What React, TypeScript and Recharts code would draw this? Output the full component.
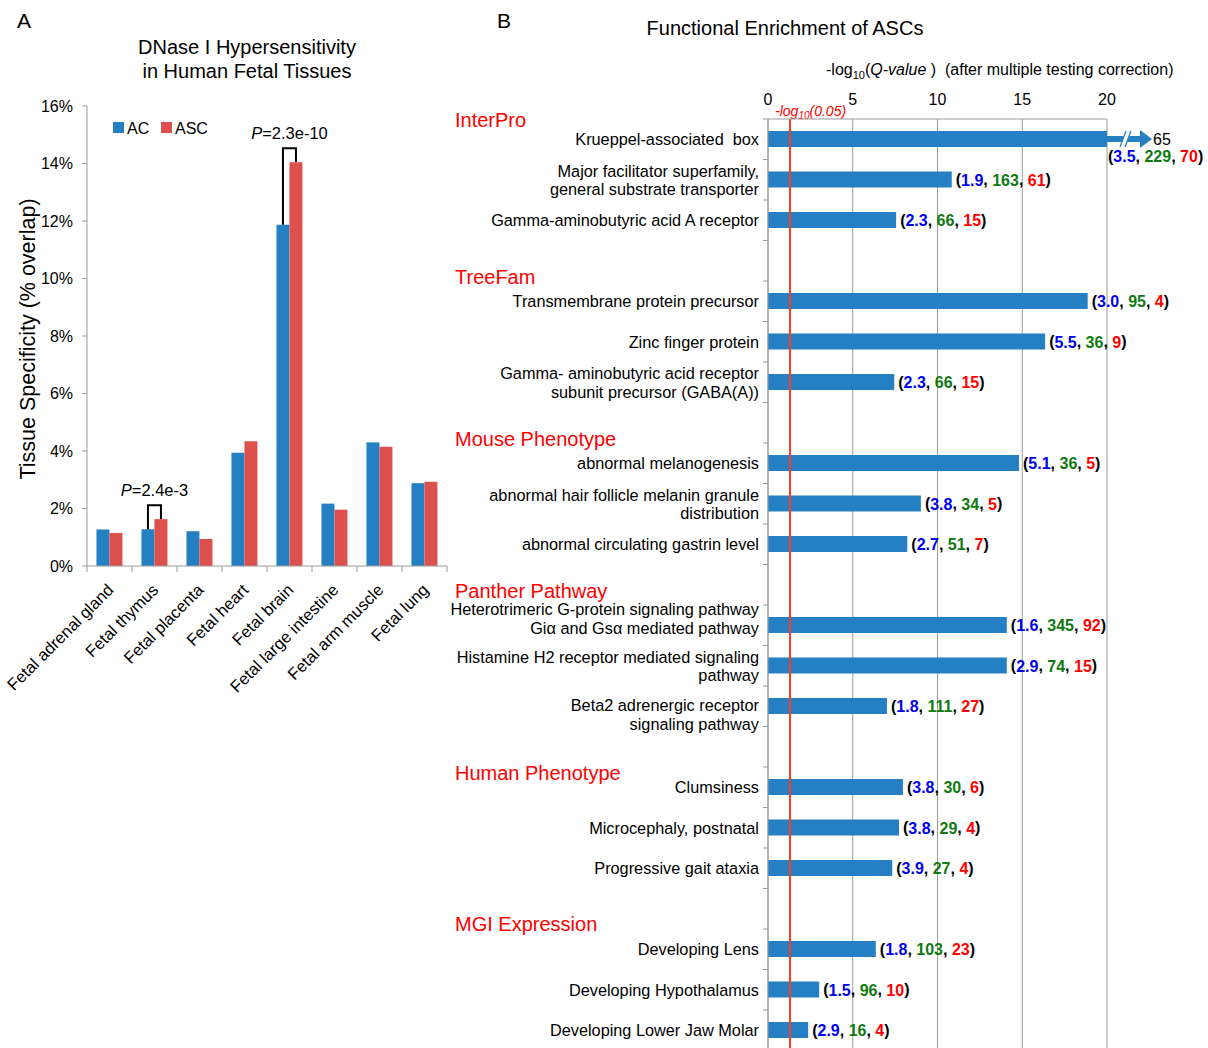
import React from 'react';
import { BarChart, Bar, XAxis, YAxis, CartesianGrid, ReferenceLine } from 'recharts';

// ---------------- Panel A data ----------------
const tissues = [
  'Fetal adrenal gland',
  'Fetal thymus',
  'Fetal placenta',
  'Fetal heart',
  'Fetal brain',
  'Fetal large intestine',
  'Fetal arm muscle',
  'Fetal lung',
];
const acValues = [1.27, 1.28, 1.21, 3.94, 11.87, 2.17, 4.3, 2.88];
const ascValues = [1.15, 1.63, 0.94, 4.34, 14.04, 1.96, 4.15, 2.93];
const pAnnotTissues = ['Fetal thymus', 'Fetal brain'];
const pAnnotValues = ['2.4e-3', '2.3e-10'];
const yTicksA = [0, 2, 4, 6, 8, 10, 12, 14, 16];
const seriesNamesA = ['AC', 'ASC'];

// ---------------- Panel B data ----------------
const groupNames = ['InterPro', 'TreeFam', 'Mouse Phenotype', 'Panther Pathway', 'Human Phenotype', 'MGI Expression'];
const termGroups = [0, 0, 0, 1, 1, 1, 2, 2, 2, 3, 3, 3, 4, 4, 4, 5, 5, 5];
const termLabels = [
  'Krueppel-associated  box',
  'Major facilitator superfamily,\ngeneral substrate transporter',
  'Gamma-aminobutyric acid A receptor',
  'Transmembrane protein precursor',
  'Zinc finger protein',
  'Gamma- aminobutyric acid receptor\nsubunit precursor (GABA(A))',
  'abnormal melanogenesis',
  'abnormal hair follicle melanin granule\ndistribution',
  'abnormal circulating gastrin level',
  'Heterotrimeric G-protein signaling pathway\nGi\u03b1 and Gs\u03b1 mediated pathway',
  'Histamine H2 receptor mediated signaling\npathway',
  'Beta2 adrenergic receptor\nsignaling pathway',
  'Clumsiness',
  'Microcephaly, postnatal',
  'Progressive gait ataxia',
  'Developing Lens',
  'Developing Hypothalamus',
  'Developing Lower Jaw Molar',
];
const negLog10Q = [65, 10.84, 7.56, 18.86, 16.35, 7.45, 14.81, 9.02, 8.22, 14.09, 14.09, 7.02, 7.96, 7.73, 7.33, 6.36, 3.02, 2.37];
const foldValues = [3.5, 1.9, 2.3, 3.0, 5.5, 2.3, 5.1, 3.8, 2.7, 1.6, 2.9, 1.8, 3.8, 3.8, 3.9, 1.8, 1.5, 2.9];
const totalCounts = [229, 163, 66, 95, 36, 66, 36, 34, 51, 345, 74, 111, 30, 29, 27, 103, 96, 16];
const ascCounts = [70, 61, 15, 4, 9, 15, 5, 5, 7, 92, 15, 27, 6, 4, 4, 23, 10, 4];
const xTicksB = [0, 5, 10, 15, 20];
const qThreshold = 1.3; // -log10(0.05)

// ---------------- styling / layout constants ----------------
const FONT = '"Liberation Sans", Arial, Helvetica, sans-serif';
const AC_BLUE = '#2580c3';
const ASC_RED = '#dc514e';
const AXIS_GRAY = '#9a9a9a';
const NUM_BLUE = '#0000f0';
const NUM_GREEN = '#0f7a0f';
const NUM_RED = '#ff0000';

const A_W = 460;
const A_H = 700;
const A_MARGIN = { top: 106, right: 13, bottom: 0, left: 0 };
const A_YAXIS_W = 87;
const A_XAXIS_H = 134;
const A_PLOT_W = A_W - A_MARGIN.right - A_MARGIN.left - A_YAXIS_W;

const B_W = 1208;
const B_H = 1060;
const B_ROWS = 23;
const B_ROW_H = 40.5;
const B_AXIS_TOP = 119;
const B_MARGIN = { top: 99, right: 101, bottom: B_H - B_AXIS_TOP - B_ROWS * B_ROW_H, left: 748 };
const B_XAXIS_H = 20;
const B_YAXIS_W = 20;
const X_MAX_B = 20;
const HEADER_X = 455;
const HEADER_DY = [-12, -17, -17, -27, -7, -18];
const LABEL_DY: Record<string, number> = { t9: -7, t11: 8 };

// ---------------- build tables ----------------
const dataA = tissues.map((t, i) => ({ tissue: t, ac: acValues[i], asc: ascValues[i] }));

type RowB = {
  id: string;
  label: string;
  q: number | null;
  fold?: number;
  total?: number;
  asc?: number;
  header?: string | null;
  group: number;
};
const rowsB: RowB[] = [];
termLabels.forEach((label, i) => {
  const newGroup = i === 0 || termGroups[i] !== termGroups[i - 1];
  if (i > 0 && newGroup) rowsB.push({ id: `gap${i}`, label: '', q: null, group: termGroups[i] });
  rowsB.push({
    id: `t${i}`,
    label,
    q: negLog10Q[i],
    fold: foldValues[i],
    total: totalCounts[i],
    asc: ascCounts[i],
    header: newGroup ? groupNames[termGroups[i]] : null,
    group: termGroups[i],
  });
});
const rowById: Record<string, RowB> = {};
rowsB.forEach((r) => (rowById[r.id] = r));

// ---------------- Panel A renderers ----------------
const TissueTick = (props: any) => {
  const { x, y, payload, index } = props;
  const band = A_PLOT_W / tissues.length;
  const ax = x + 5;
  const ay = y + 25;
  return (
    <g>
      <line x1={x - band / 2} x2={x - band / 2} y1={y} y2={y + 6} stroke={AXIS_GRAY} />
      {index === tissues.length - 1 && (
        <line x1={x + band / 2} x2={x + band / 2} y1={y} y2={y + 6} stroke={AXIS_GRAY} />
      )}
      <text
        x={ax}
        y={ay}
        transform={`rotate(-45, ${ax}, ${ay})`}
        textAnchor="end"
        fontSize={16.6}
        fontFamily={FONT}
        fill="#000"
      >
        {payload.value}
      </text>
    </g>
  );
};

const AcBarShape = (props: any) => {
  const { x, y, width, height, payload, fill } = props;
  const k = pAnnotTissues.indexOf(payload.tissue);
  const rect = <rect x={x} y={y} width={width} height={height} fill={fill} />;
  if (k < 0 || !payload.ac) return rect;
  const ppu = height / payload.ac;
  const base = y + height;
  const ascTop = base - payload.asc * ppu;
  const top = Math.min(y, ascTop) - 14;
  const lx = x + width / 2;
  const rx = x + width * 1.5;
  return (
    <g>
      {rect}
      <polyline
        points={`${lx},${y} ${lx},${top} ${rx},${top} ${rx},${ascTop}`}
        fill="none"
        stroke="#000"
        strokeWidth={2}
      />
      <text x={(lx + rx) / 2} y={top - 9} textAnchor="middle" fontSize={16.5} fontFamily={FONT} fill="#000">
        <tspan fontStyle="italic">P</tspan>={pAnnotValues[k]}
      </text>
    </g>
  );
};

// ---------------- Panel B renderers ----------------
const TermTick = (props: any) => {
  const { x, y, payload, index } = props;
  const row = rowById[payload.value] || rowsB[index];
  const lines = row && row.label ? row.label.split('\n') : [];
  const lineH = 18.5;
  const shift = row ? LABEL_DY[row.id] || 0 : 0;
  const y0 = y - ((lines.length - 1) * lineH) / 2 + shift;
  return (
    <g>
      <line x1={x - 5} x2={x} y1={y - B_ROW_H / 2} y2={y - B_ROW_H / 2} stroke={AXIS_GRAY} />
      {index === rowsB.length - 1 && (
        <line x1={x - 5} x2={x} y1={y + B_ROW_H / 2} y2={y + B_ROW_H / 2} stroke={AXIS_GRAY} />
      )}
      {lines.map((ln, k) => (
        <text
          key={k}
          x={x - 9}
          y={y0 + k * lineH}
          textAnchor="end"
          dominantBaseline="central"
          fontSize={16.3}
          fontFamily={FONT}
          fill="#000"
          style={{ whiteSpace: 'pre' }}
        >
          {ln}
        </text>
      ))}
      {row && row.header && (
        <text x={HEADER_X} y={y + HEADER_DY[row.group]} fontSize={20} fontFamily={FONT} fill="#ff0000">
          {row.header}
        </text>
      )}
    </g>
  );
};

const QTick = (props: any) => {
  const { x, payload } = props;
  return (
    <text x={x} y={B_AXIS_TOP - 14} textAnchor="middle" fontSize={16} fontFamily={FONT} fill="#000">
      {payload.value}
    </text>
  );
};

const EnrichBar = (props: any) => {
  const { x, y, width, height, payload } = props;
  if (!payload || payload.q == null || !isFinite(width)) return <g />;
  const cy = y + height / 2;
  const end = x + width;
  const over = payload.q > X_MAX_B;
  return (
    <g>
      <rect x={x} y={y} width={width} height={height} fill={AC_BLUE} />
      {over && (
        <g>
          <rect x={end} y={cy - 3} width={35} height={6} fill={AC_BLUE} />
          <polygon points={`${end + 33},${cy - 9} ${end + 45},${cy} ${end + 33},${cy + 9}`} fill={AC_BLUE} />
          <polygon
            points={`${end + 13},${cy + 8} ${end + 18},${cy + 8} ${end + 24},${cy - 8} ${end + 19},${cy - 8}`}
            fill="#fff"
          />
          <line x1={end + 13} y1={cy + 8} x2={end + 19} y2={cy - 8} stroke={AC_BLUE} strokeWidth={1.3} />
          <line x1={end + 18} y1={cy + 8} x2={end + 24} y2={cy - 8} stroke={AC_BLUE} strokeWidth={1.3} />
          <text x={end + 46} y={cy} dominantBaseline="central" fontSize={16} fontFamily={FONT} fill="#000">
            {payload.q}
          </text>
        </g>
      )}
      <text
        x={over ? end + 1 : end + 4}
        y={over ? cy + 17 : cy}
        dominantBaseline="central"
        fontSize={16}
        fontWeight="bold"
        fontFamily={FONT}
        fill="#000"
      >
        (<tspan fill={NUM_BLUE}>{payload.fold.toFixed(1)}</tspan>, <tspan fill={NUM_GREEN}>{payload.total}</tspan>,{' '}
        <tspan fill={NUM_RED}>{payload.asc}</tspan>)
      </text>
    </g>
  );
};

const ThresholdLabel = (props: any) => {
  const vb = props.viewBox || {};
  const x = (vb.x || 0) - 15;
  const y = (vb.y || 0) - 3;
  return (
    <text x={x} y={y} fontSize={14} fontStyle="italic" fontFamily={FONT} fill="#ff0000">
      -log<tspan fontSize={10} dy={3}>10</tspan>
      <tspan dy={-3}>(0.05)</tspan>
    </text>
  );
};

export default function App() {
  return (
    <div style={{ position: 'absolute', left: 0, top: 0, width: 1208, height: 1048, overflow: 'hidden', background: '#fff' }}>
      {/* Panel A */}
      <div style={{ position: 'absolute', left: 0, top: 0 }}>
        <BarChart width={A_W} height={A_H} data={dataA} margin={A_MARGIN} barCategoryGap="21%" barGap={0}>
          <XAxis
            dataKey="tissue"
            interval={0}
            height={A_XAXIS_H}
            tickLine={false}
            tickSize={0}
            tickMargin={0}
            axisLine={{ stroke: AXIS_GRAY }}
            tick={<TissueTick />}
          />
          <YAxis
            type="number"
            domain={[0, 16]}
            ticks={yTicksA}
            interval={0}
            width={A_YAXIS_W}
            tickSize={5}
            tickMargin={9}
            tickFormatter={(v: number) => `${v}%`}
            axisLine={{ stroke: AXIS_GRAY }}
            tickLine={{ stroke: AXIS_GRAY }}
            tick={{ fontSize: 16, fill: '#000', fontFamily: FONT }}
          />
          <Bar dataKey="ac" name={seriesNamesA[0]} fill={AC_BLUE} isAnimationActive={false} shape={<AcBarShape />} />
          <Bar dataKey="asc" name={seriesNamesA[1]} fill={ASC_RED} isAnimationActive={false} />
        </BarChart>
      </div>

      {/* Panel B */}
      <div style={{ position: 'absolute', left: 0, top: 0 }}>
        <BarChart width={B_W} height={B_H} data={rowsB} layout="vertical" margin={B_MARGIN}>
          <CartesianGrid horizontal={false} stroke={AXIS_GRAY} />
          <XAxis
            type="number"
            orientation="top"
            domain={[0, X_MAX_B]}
            ticks={xTicksB}
            interval={0}
            height={B_XAXIS_H}
            tickLine={false}
            axisLine={{ stroke: AXIS_GRAY }}
            tick={<QTick />}
          />
          <YAxis
            type="category"
            dataKey="id"
            interval={0}
            width={B_YAXIS_W}
            tickLine={false}
            tickSize={0}
            tickMargin={0}
            axisLine={{ stroke: AXIS_GRAY }}
            tick={<TermTick />}
          />
          <Bar
            dataKey={(d: RowB) => (d.q == null ? null : Math.min(d.q, X_MAX_B))}
            barSize={16}
            fill={AC_BLUE}
            isAnimationActive={false}
            shape={<EnrichBar />}
          />
          <ReferenceLine x={qThreshold} stroke="#ff3b1f" strokeWidth={2} label={<ThresholdLabel />} />
        </BarChart>
      </div>

      {/* static text */}
      <svg
        width={1208}
        height={1048}
        style={{ position: 'absolute', left: 0, top: 0, pointerEvents: 'none' }}
        fontFamily={FONT}
      >
        <text x={17} y={28} fontSize={21} fill="#000">A</text>
        <text x={247} y={54} textAnchor="middle" fontSize={20} fill="#000">DNase I Hypersensitivity</text>
        <text x={247} y={78} textAnchor="middle" fontSize={20} fill="#000">in Human Fetal Tissues</text>
        <text transform="translate(35,339) rotate(-90)" textAnchor="middle" fontSize={21.5} fill="#000">
          Tissue Specificity (% overlap)
        </text>
        {/* legend */}
        <rect x={113} y={122} width={11} height={11} fill={AC_BLUE} />
        <text x={127} y={134} fontSize={16} fill="#000">{seriesNamesA[0]}</text>
        <rect x={161} y={122} width={11} height={11} fill={ASC_RED} />
        <text x={175} y={134} fontSize={16} fill="#000">{seriesNamesA[1]}</text>

        <text x={497} y={28} fontSize={21} fill="#000">B</text>
        <text x={785} y={35} textAnchor="middle" fontSize={20} fill="#000">Functional Enrichment of ASCs</text>
        <text x={826} y={75} fontSize={16} fill="#000" style={{ whiteSpace: 'pre' }}>
          -log<tspan fontSize={11} dy={4}>10</tspan>
          <tspan dy={-4}>(</tspan>
          <tspan fontStyle="italic">Q-value</tspan>
          <tspan>{' )  (after multiple testing correction)'}</tspan>
        </text>
      </svg>
    </div>
  );
}
